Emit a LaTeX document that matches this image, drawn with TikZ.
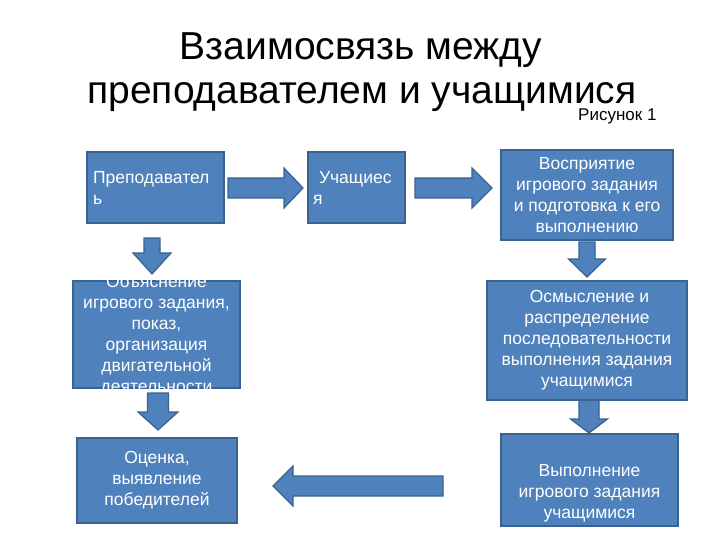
\documentclass[tikz,border=0pt]{standalone}
\usepackage{fontspec}
\setmainfont{Liberation Sans}
\definecolor{boxfill}{HTML}{4F81BD}
\definecolor{boxline}{HTML}{3A6190}
\tikzset{
  box/.style={draw=boxline, fill=boxfill, line width=1.2pt, inner sep=0pt, outer sep=0pt},
  btext/.style={text=white, font=\fontsize{17.5}{21}\selectfont, align=center, inner sep=0pt},
  barrow/.style={draw=boxline, fill=boxfill, line width=1.2pt, line join=miter},
}
% horizontal block arrow: #1 start x, #2 tip x, #3 centre y, #4 shaft half width, #5 head half width, #6 head length (signed)
\newcommand\blkH[6]{%
  \draw[barrow] ({#1},{#3-#4}) -- ({#2-#6},{#3-#4}) -- ({#2-#6},{#3-#5}) -- ({#2},{#3})
    -- ({#2-#6},{#3+#5}) -- ({#2-#6},{#3+#4}) -- ({#1},{#3+#4}) -- cycle;}
% vertical block arrow: #1 start y, #2 tip y, #3 centre x, ...
\newcommand\blkV[6]{%
  \draw[barrow] ({#3-#4},{#1}) -- ({#3-#4},{#2-#6}) -- ({#3-#5},{#2-#6}) -- ({#3},{#2})
    -- ({#3+#5},{#2-#6}) -- ({#3+#4},{#2-#6}) -- ({#3+#4},{#1}) -- cycle;}
\begin{document}
\begin{tikzpicture}[x=1pt,y=-1pt]
\useasboundingbox (0,0) rectangle (720,540);
% title
\node[anchor=base, inner sep=0pt, font=\fontsize{39}{47}\selectfont] (title1) at (361,60) {Взаимосвязь между};
\node[anchor=base, inner sep=0pt, font=\fontsize{39}{47}\selectfont] (title2) at (362,104) {преподавателем и учащимися};
\node[anchor=base west, inner sep=0pt, font=\fontsize{17}{20}\selectfont] (fig) at (578,121) {Рисунок 1};
% block arrows
\blkH{228}{303}{188}{10}{20}{19}
\blkH{415}{492}{188}{10}{20}{20}
\blkV{238}{274}{152}{8}{19}{21}
\blkV{242}{277}{587}{8}{18.5}{18}
\blkV{393}{430}{158}{10.5}{20}{18}
\blkV{400}{433}{589}{10}{18.5}{14}
\blkH{443}{273}{486}{10}{20}{-20}
% boxes
\node[box, btext, minimum width=137pt, minimum height=71pt, text width=125pt, inner xsep=6pt, align=left] (b1) at (155.5,187.5) {Преподавател\\ь};
\node[box, btext, minimum width=97pt, minimum height=71pt, text width=87pt, inner xsep=5pt, align=left] (b2) at (356.5,187.5) {\hspace{6pt}Учащиес\\я};
\node[box, btext, minimum width=172pt, minimum height=90pt] (b3) at (587,195) {Восприятие\\игрового задания\\и подготовка к его\\выполнению};
\node[box, minimum width=167pt, minimum height=107pt] (b4) at (156.5,334.5) {};
\node[btext] (t4) at (156.5,335) {Объяснение\\игрового задания,\\показ,\\организация\\двигательной\\деятельности};
\node[box, btext, minimum width=200pt, minimum height=119pt] (b5) at (587,340.5) {\hspace{5pt}Осмысление и\\распределение\\последовательности\\выполнения задания\\учащимися};
\node[box, btext, minimum width=160pt, minimum height=85pt] (b6) at (157,480.5) {Оценка,\\выявление\\победителей};
\node[box, minimum width=177pt, minimum height=92pt] (b7) at (589.5,480) {};
\node[btext] (t7) at (589.5,493) {Выполнение\\игрового задания\\учащимися};
\end{tikzpicture}
\end{document}
